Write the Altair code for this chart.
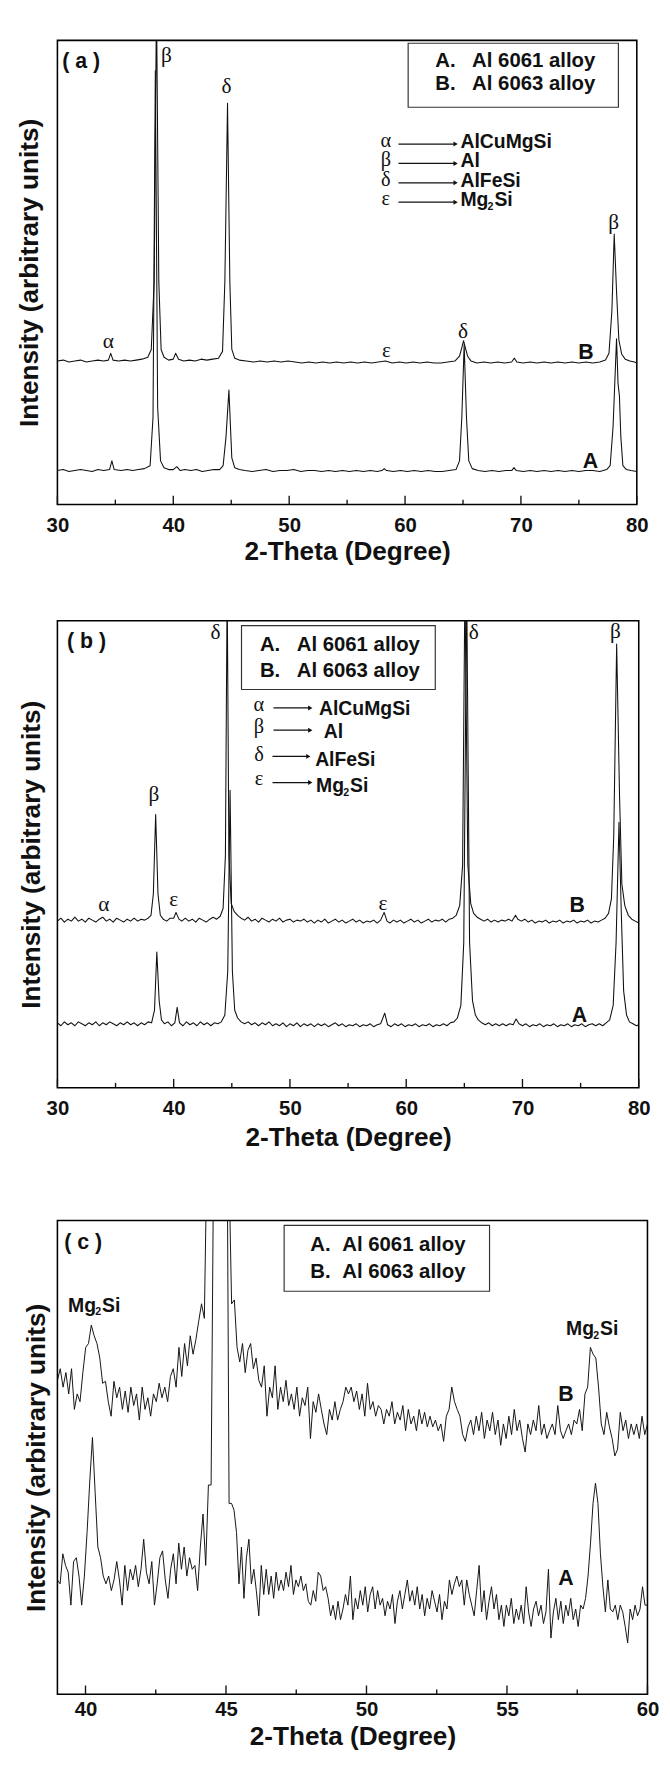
import altair as alt
import numpy as np
import pandas as pd

FONT = "Liberation Sans"
SERIF = "Liberation Serif"
INK = "#111111"

# ---------------- data (arbitrary intensity units) ----------------
a_A = [(30.0,35),(30.5,36),(31.0,34),(31.5,35),(32.0,36),(32.5,35),(33.0,34),(33.5,36),(34.0,35),(34.5,36),
       (34.7,45),(34.9,36),(35.5,35),(36.0,36),(36.5,35),(37.0,36),(37.5,37),(38.0,40),(38.25,90),(38.45,448),
       (38.65,100),(38.9,45),(39.2,38),(39.6,36),(40.0,36),(40.3,39),(40.6,35),(41.0,36),(41.5,35),(42.0,36),
       (42.5,34),(43.0,35),(43.5,36),(44.0,36),(44.3,40),(44.55,70),(44.8,118),(45.05,48),(45.3,38),(45.7,36),
       (46.2,35),(46.8,34),(47.4,35),(48.0,36),(48.6,34),(49.2,35),(49.8,35),(50.4,36),(51.0,34),(51.6,35),
       (52.2,35),(52.8,34),(53.4,35),(54.0,34),(54.6,35),(55.2,34),(55.8,35),(56.4,34),(57.0,35),(57.6,34),
       (58.0,35),(58.2,37),(58.4,35),(59.0,34),(59.6,35),(60.2,34),(60.8,35),(61.4,34),(62.0,35),(62.6,34),
       (63.2,34),(63.8,35),(64.4,36),(64.7,45),(64.9,90),(65.1,165),(65.3,90),(65.5,45),(65.8,37),(66.3,35),
       (66.9,34),(67.5,35),(68.1,34),(68.7,35),(69.2,35),(69.4,38),(69.6,35),(70.2,34),(70.8,35),(71.4,34),
       (72.0,35),(72.6,34),(73.2,35),(73.8,34),(74.4,35),(75.0,34),(75.6,35),(76.2,35),(76.8,34),(77.4,36),
       (77.7,40),(77.95,80),(78.25,171),(78.38,125),(78.5,112),(78.62,70),(78.8,40),(79.1,36),(79.5,35),(80.0,34)]
a_B = [(30.0,148),(30.5,149),(31.0,147),(31.5,148),(32.0,149),(32.5,147),(33.0,148),(33.5,149),(34.0,148),(34.4,149),
       (34.6,156),(34.8,149),(35.3,148),(35.8,149),(36.3,148),(36.8,149),(37.3,150),(37.8,152),(38.1,160),(38.35,230),
       (38.55,520),(38.75,230),(38.95,160),(39.2,152),(39.6,149),(40.0,150),(40.2,156),(40.45,150),(40.9,148),(41.4,149),
       (41.9,148),(42.4,150),(42.9,149),(43.4,150),(43.9,151),(44.25,158),(44.45,230),(44.68,414),(44.88,230),(45.05,160),
       (45.3,151),(45.7,149),(46.3,148),(46.9,147),(47.5,148),(48.1,147),(48.7,148),(49.3,147),(49.9,148),(50.5,147),
       (51.1,146),(51.7,147),(52.3,146),(52.9,147),(53.5,146),(54.1,147),(54.7,146),(55.3,147),(55.9,146),(56.5,147),
       (57.1,146),(57.7,147),(58.3,148),(58.9,146),(59.5,147),(60.1,146),(60.7,147),(61.3,146),(61.9,147),(62.5,146),
       (63.1,146),(63.7,147),(64.3,148),(64.7,153),(64.9,162),(65.05,169),(65.2,162),(65.4,153),(65.7,148),(66.2,146),
       (66.8,147),(67.4,146),(68.0,147),(68.6,146),(69.2,147),(69.42,151),(69.65,147),(70.2,146),(70.8,147),(71.4,146),
       (72.0,147),(72.6,146),(73.2,147),(73.8,146),(74.4,147),(75.0,146),(75.6,147),(76.2,146),(76.8,147),(77.3,149),
       (77.6,156),(77.85,200),(78.05,279),(78.25,220),(78.45,170),(78.7,155),(79.0,150),(79.4,148),(79.8,147),(80.0,146)]

b_A = [(30.0,67),(30.3,64),(30.6,68),(30.9,65),(31.2,67),(31.5,64),(31.8,68),(32.1,66),(32.4,64),(32.7,67),
       (33.0,65),(33.3,68),(33.6,64),(33.9,67),(34.2,65),(34.5,68),(34.8,66),(35.1,64),(35.4,67),(35.7,65),
       (36.0,68),(36.3,65),(36.6,67),(36.9,64),(37.2,67),(37.5,65),(37.8,68),(38.1,67),(38.35,80),(38.55,140),
       (38.75,90),(38.95,70),(39.2,66),(39.5,68),(39.8,64),(40.1,67),(40.3,83),(40.5,67),(40.8,64),(41.1,68),
       (41.4,65),(41.7,67),(42.0,64),(42.3,68),(42.6,65),(42.9,67),(43.2,64),(43.5,67),(43.8,66),(44.1,68),
       (44.4,75),(44.65,120),(44.85,307),(45.05,120),(45.25,80),(45.5,72),(45.8,68),(46.1,66),(46.4,68),(46.7,65),
       (47.0,67),(47.3,64),(47.6,67),(47.9,65),(48.2,68),(48.5,64),(48.8,66),(49.1,64),(49.4,67),(49.7,63),
       (50.0,66),(50.3,64),(50.6,67),(50.9,63),(51.2,66),(51.5,64),(51.8,66),(52.1,63),(52.4,66),(52.7,64),
       (53.0,66),(53.3,63),(53.6,65),(53.9,67),(54.2,64),(54.5,66),(54.8,63),(55.1,65),(55.4,64),(55.7,66),
       (56.0,63),(56.3,65),(56.6,64),(56.9,66),(57.2,63),(57.5,65),(57.8,66),(58.15,77),(58.4,65),(58.7,63),
       (59.0,66),(59.3,64),(59.6,66),(59.9,63),(60.2,65),(60.5,64),(60.8,66),(61.1,63),(61.4,65),(61.7,64),
       (62.0,66),(62.3,63),(62.6,65),(62.9,64),(63.2,66),(63.5,64),(63.8,67),(64.1,68),(64.4,72),(64.7,85),
       (64.95,150),(65.2,520),(65.45,150),(65.7,90),(65.95,75),(66.2,70),(66.5,67),(66.8,65),(67.1,67),(67.4,64),
       (67.7,66),(68.0,64),(68.3,66),(68.6,64),(68.9,66),(69.2,65),(69.45,71),(69.7,66),(70.0,64),(70.3,66),
       (70.6,63),(70.9,65),(71.2,64),(71.5,66),(71.8,63),(72.1,65),(72.4,64),(72.7,66),(73.0,63),(73.3,65),
       (73.6,64),(73.9,66),(74.2,63),(74.5,65),(74.8,64),(75.1,66),(75.4,63),(75.7,65),(76.0,66),(76.3,64),
       (76.6,66),(76.9,64),(77.2,67),(77.5,70),(77.8,85),(78.05,150),(78.3,274),(78.5,180),(78.7,100),(78.95,75),
       (79.2,68),(79.5,66),(79.8,64),(80.0,65)]
b_B = [(30.0,172),(30.3,175),(30.6,171),(30.9,174),(31.2,172),(31.5,176),(31.8,172),(32.1,174),(32.4,171),(32.7,175),
       (33.0,173),(33.3,171),(33.6,174),(33.9,176),(34.2,172),(34.5,174),(34.8,171),(35.1,175),(35.4,173),(35.7,171),
       (36.0,174),(36.3,172),(36.6,175),(36.9,172),(37.2,174),(37.5,173),(37.8,175),(38.05,178),(38.25,200),(38.45,282),
       (38.65,200),(38.85,178),(39.1,174),(39.4,172),(39.7,175),(40.0,175),(40.2,181),(40.45,174),(40.7,172),(41.0,175),
       (41.3,172),(41.6,174),(41.9,171),(42.2,175),(42.5,173),(42.8,171),(43.1,174),(43.4,176),(43.7,174),(44.0,177),
       (44.25,185),(44.45,240),(44.6,520),(44.75,240),(44.95,190),(45.2,182),(45.5,178),(45.8,175),(46.1,173),(46.4,176),
       (46.7,172),(47.0,174),(47.3,171),(47.6,175),(47.9,173),(48.2,171),(48.5,174),(48.8,172),(49.1,175),(49.4,171),
       (49.7,173),(50.0,174),(50.3,171),(50.6,173),(50.9,172),(51.2,174),(51.5,171),(51.8,173),(52.1,170),(52.4,173),
       (52.7,171),(53.0,174),(53.3,170),(53.6,172),(53.9,174),(54.2,171),(54.5,173),(54.8,170),(55.1,172),(55.4,174),
       (55.7,171),(56.0,173),(56.3,170),(56.6,172),(56.9,171),(57.2,173),(57.5,170),(57.8,173),(58.1,181),(58.35,172),
       (58.6,170),(58.9,173),(59.2,171),(59.5,173),(59.8,170),(60.1,172),(60.4,174),(60.7,171),(61.0,173),(61.3,170),
       (61.6,172),(61.9,174),(62.2,171),(62.5,173),(62.8,172),(63.1,174),(63.4,171),(63.7,174),(64.0,175),(64.3,178),
       (64.6,188),(64.85,230),(65.05,520),(65.3,230),(65.55,190),(65.8,180),(66.1,176),(66.4,174),(66.7,172),(67.0,174),
       (67.3,171),(67.6,173),(67.9,171),(68.2,173),(68.5,172),(68.8,174),(69.1,172),(69.4,178),(69.6,174),(69.9,172),
       (70.2,174),(70.5,171),(70.8,173),(71.1,170),(71.4,172),(71.7,171),(72.0,173),(72.3,170),(72.6,172),(72.9,171),
       (73.2,173),(73.5,170),(73.8,172),(74.1,171),(74.4,173),(74.7,170),(75.0,172),(75.3,171),(75.6,173),(75.9,170),
       (76.2,172),(76.5,171),(76.8,173),(77.1,175),(77.4,180),(77.65,195),(77.85,260),(78.1,458),(78.35,300),(78.55,210),
       (78.8,188),(79.1,178),(79.4,174),(79.7,172),(80.0,170)]

c_B_pre = [324,336,317,332,310,336,294,310,302,332,358,362,381,370,362,347,321,323,302,287,
           323,306,317,294,313,291,317,298,310,283,317,294,306,287,310,302,321,306,317,302,
           328,336,317,358,328,362,339,370,351,366,385,403,388]
c_B_peak = [(44.3,520),(45.12,520)]
c_B_post = [403,407,358,343,362,332,355,362,336,347,324,317,339,287,317,306,339,294,317,302,
            324,298,310,294,317,287,306,298,317,264,302,291,310,294,279,268,294,283,302,283,
            294,302,317,310,317,302,313,294,310,287,321,294,302,287,298,294,279,294,287,302,
            279,291,283,298,272,294,279,287,272,294,279,291,276,287,276,283,272,279,261,287,
            294,317,302,294,287,268,261,276,283,268,287,272,291,264,283,272,291,268,283,257,
            279,264,287,268,294,272,283,264,250,279,268,283,272,298,268,279,264,272,279,268,
            298,272,264,272,279,268,283,279,294,272,310,317,358,351,347,317,279,268,291,276,
            264,246,253,291,272,283,264,279,268,279,264,287,268,279]
c_A_pre = [118,114,145,133,126,92,137,141,122,92,122,167,220,265,208,152,141,122,114,122,
           107,118,137,118,92,133,107,129,118,133,111,129,160,126,114,137,92,114,141,148,
           118,99,129,145,114,156,129,152,122,141,129,133,107,152,186,133,216,216]
c_A_peak = [(44.55,520),(45.05,520)]
c_A_post = [197,197,190,167,114,152,99,141,160,114,129,107,81,133,103,129,103,122,99,126,
            107,118,107,126,111,133,103,118,111,122,107,114,96,92,107,96,126,122,107,111,
            99,81,92,77,96,77,88,103,92,122,77,99,88,107,92,111,85,103,111,88,
            107,92,99,81,96,88,103,73,96,107,88,103,118,96,107,92,111,88,103,81,
            99,88,107,96,85,103,77,96,88,118,103,114,122,111,118,92,118,103,92,81,
            107,133,85,107,77,96,111,88,103,77,92,70,92,81,99,73,88,77,92,73,
            111,85,70,88,96,81,92,73,85,129,58,85,99,77,96,73,92,81,99,77,
            88,70,92,88,99,122,156,197,218,197,145,111,85,118,88,85,92,77,92,85,
            70,53,88,77,92,81,88,111,92,92]

TICKS_AB = [30, 40, 50, 60, 70, 80]
MINOR_AB = [35, 45, 55, 65, 75]
TICKS_C = [40, 45, 50, 55, 60]
MINOR_C = [42.5, 47.5, 52.5, 57.5]

a_peaks = [(39.4,464,"β"),(44.6,432,"δ"),(34.4,168,"α"),(58.4,159,"ε"),(65.0,179,"δ"),(78.0,291,"β")]
a_curves = [(75.6,157,"B"),(76.0,45,"A")]
b_peaks = [(43.6,470,"δ"),(65.8,470,"δ"),(78.0,471,"β"),(38.3,303,"β"),(40.0,195,"ε"),(34.0,189,"α"),(58.0,190,"ε")]
b_curves = [(74.7,188,"B"),(74.9,75,"A")]
c_curves = [(57.1,310,"B"),(57.1,120,"A")]

LEG_A = ("A.", "Al 6061 alloy")
LEG_B = ("B.", "Al 6063 alloy")
PHASES = [("α", "AlCuMgSi"), ("β", "Al"), ("δ", "AlFeSi"), ("ε", "Mg")]


def to_df(A, B):
    rows = [{"theta": x, "I": y, "sample": "A"} for x, y in A]
    rows += [{"theta": x, "I": y, "sample": "B"} for x, y in B]
    return pd.DataFrame(rows)


def uniform(vals, x0, x1):
    return list(zip(np.linspace(x0, x1, len(vals)), vals))


cA = uniform(c_A_pre, 39.0, 44.47) + c_A_peak + uniform(c_A_post, 45.11, 60.0)
cB = uniform(c_B_pre, 39.0, 44.23) + c_B_peak + uniform(c_B_post, 45.2, 60.0)

ONE = pd.DataFrame({"k": [0]})


def txt(x, y, s, size=20, font=FONT, weight="bold", align="left", color=INK):
    return alt.Chart(ONE).mark_text(text=s, font=font, fontSize=size, fontWeight=weight,
                                    align=align, baseline="middle", color=color).encode(
        x=alt.value(x), y=alt.value(y))


def box(x1, x2, y1, y2):
    return alt.Chart(ONE).mark_rect(fill="white", stroke="#333333", strokeWidth=1.2).encode(
        x=alt.value(x1), x2=alt.value(x2), y=alt.value(y1), y2=alt.value(y2))


def arrow(x1, x2, y):
    line = alt.Chart(ONE).mark_rule(color=INK, strokeWidth=1.3).encode(
        x=alt.value(x1), x2=alt.value(x2 - 4), y=alt.value(y))
    head = alt.Chart(ONE).mark_point(shape="triangle-right", filled=True, size=26,
                                     color=INK, opacity=1).encode(x=alt.value(x2 - 3), y=alt.value(y))
    return [line, head]


def mg2si(x, y, size=20):
    return [txt(x, y, "Mg", size), txt(x + 28, y + 7, "2", 11), txt(x + 35, y, "Si", size)]


def panel(df, W, H, xdom, ticks, minor, ytp, lpad, tpad, peaks, curves, extra, lw=1.1):
    x = alt.X("theta:Q", scale=alt.Scale(domain=xdom, nice=False, zero=False),
              axis=alt.Axis(values=ticks, format="d", title="2-Theta (Degree)", grid=False,
                            ticks=False, domain=False, labelPadding=lpad, titlePadding=tpad,
                            labelFlush=False))
    y = alt.Y("I:Q", scale=alt.Scale(domain=[0, H], nice=False, zero=False),
              axis=alt.Axis(title="Intensity (arbitrary units)", labels=False, ticks=False,
                            domain=False, grid=False, titlePadding=ytp))
    lines = alt.Chart(df).mark_line(color=INK, strokeWidth=lw, clip=True, strokeJoin="round").encode(
        x=x, y=y, detail="sample:N")
    tmaj = alt.Chart(pd.DataFrame({"theta": ticks})).mark_rule(color=INK, strokeWidth=1.4).encode(
        x="theta:Q", y=alt.value(H), y2=alt.value(H - 9))
    tmin = alt.Chart(pd.DataFrame({"theta": minor})).mark_rule(color=INK, strokeWidth=1.4).encode(
        x="theta:Q", y=alt.value(H), y2=alt.value(H - 5))
    layers = [lines, tmaj, tmin]
    if peaks:
        pk = pd.DataFrame(peaks, columns=["theta", "I", "lab"])
        layers.append(alt.Chart(pk).mark_text(font=SERIF, fontSize=22, color=INK).encode(
            x="theta:Q", y="I:Q", text="lab:N"))
    cv = pd.DataFrame(curves, columns=["theta", "I", "lab"])
    layers.append(alt.Chart(cv).mark_text(font=FONT, fontSize=22, fontWeight="bold", color=INK).encode(
        x="theta:Q", y="I:Q", text="lab:N"))
    layers += extra
    return alt.layer(*layers).properties(width=W, height=H)


def legend(x1, x2, y1, y2, xa, xt, ya, yb):
    return [box(x1, x2, y1, y2),
            txt(xa, ya, LEG_A[0], 21), txt(xt, ya, LEG_A[1], 21),
            txt(xa, yb, LEG_B[0], 21), txt(xt, yb, LEG_B[1], 21)]


def phases(xg, rows):
    out = []
    for (g, name), (yg, ax1, ax2, ya, xt, yt) in zip(PHASES, rows):
        out.append(txt(xg, yg, g, 21, SERIF, "normal", "center"))
        out += arrow(ax1, ax2, ya)
        if name == "Mg":
            out += mg2si(xt, yt)
        else:
            out.append(txt(xt, yt, name))
    return out


# ---------------- panel (a) ----------------
extra_a = [txt(5, 21, "( a )", 22)]
extra_a += legend(362, 579, 3, 69, 390, 428, 21, 45)
extra_a += phases(339, [(104, 352, 414, 107, 416, 105), (124, 352, 414, 127, 416, 125),
                        (144, 352, 414, 147, 416, 145), (164, 352, 414, 167, 416, 165)])
pa = panel(to_df(a_A, a_B), 598, 479, [30, 80], TICKS_AB, MINOR_AB, 15, 11, 4,
           a_peaks, a_curves, extra_a)

# ---------------- panel (b) ----------------
extra_b = [txt(10, 21, "( b )", 22)]
extra_b += legend(190, 390, 5, 71, 209, 247, 25, 52)
extra_b += phases(208, [(87, 223, 264, 90, 270, 91), (110, 223, 264, 113, 275, 115),
                        (139, 222, 262, 140, 266, 144), (164, 222, 264, 167, 267, 171)])
pb = panel(to_df(b_A, b_B), 600, 482, [30, 80], TICKS_AB, MINOR_AB, 12, 11, 7,
           b_peaks, b_curves, extra_b)

# ---------------- panel (c) ----------------
extra_c = [txt(7, 22, "( c )", 22)]
extra_c += legend(234, 446, 5, 73, 261, 294, 26, 53)
extra_c += mg2si(11, 88) + mg2si(525, 112)
pc = panel(to_df(cA, cB), 609, 489, [39, 60], TICKS_C, MINOR_C, 7, 5, 5,
           None, c_curves, extra_c, lw=1.0)

top = alt.concat(pa, pb, columns=1, spacing=56, align="none")
chart = alt.concat(top, pc, columns=1, spacing=70, align="none").configure_view(
    stroke="black", strokeWidth=1.6
).configure_axis(
    labelFont=FONT, labelFontSize=21, labelFontWeight="bold", labelColor=INK,
    titleFont=FONT, titleFontSize=27, titleFontWeight="bold", titleColor=INK
).properties(padding={"left": 7, "top": 4, "right": 2, "bottom": 0}, background="white")

chart.save("out.html", embed_options={"renderer": "svg", "actions": False})
